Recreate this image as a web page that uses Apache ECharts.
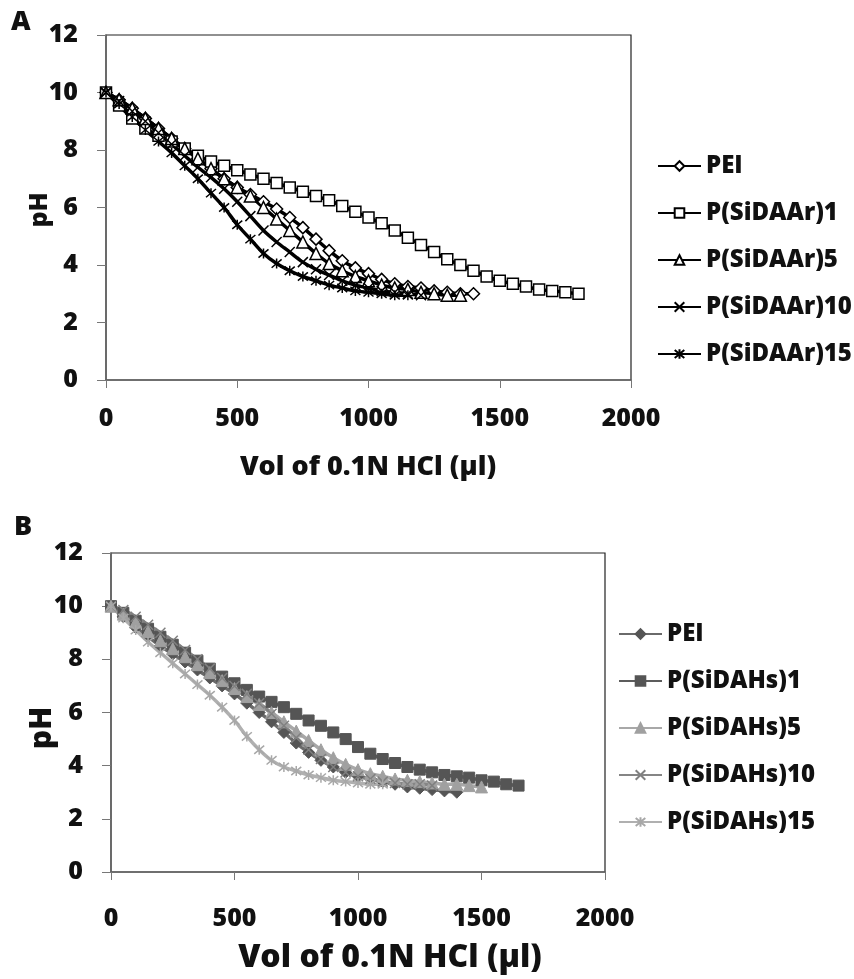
<!DOCTYPE html>
<html><head><meta charset="utf-8">
<script src="https://cdn.jsdelivr.net/npm/echarts@6/dist/echarts.min.js"></script>
<style>html,body{margin:0;padding:0;background:#fff}#c{width:854px;height:979px}</style>
</head><body><div id="c"></div>
<script>
// Volume of 0.1N HCl (µl)
var vol = [0,50,100,150,200,250,300,350,400,450,500,550,600,650,700,750,800,850,900,950,1000,1050,1100,1150,1200,1250,1300,1350,1400,1450,1500,1550,1600,1650,1700,1750,1800];
var yTicks = [0,2,4,6,8,10,12];
var xTicks = [0,500,1000,1500,2000];

// Panel A (pH)
var namesA = ['PEI','P(SiDAAr)1','P(SiDAAr)5','P(SiDAAr)10','P(SiDAAr)15'];
var peiA  = [10,9.75,9.45,9.1,8.75,8.4,8.05,7.7,7.35,7.0,6.7,6.45,6.2,5.95,5.65,5.3,4.9,4.5,4.15,3.9,3.7,3.5,3.35,3.25,3.2,3.1,3.05,3.0,3.0];
var p1A   = [10,9.55,9.1,8.75,8.5,8.3,8.05,7.8,7.6,7.45,7.3,7.15,7.0,6.85,6.7,6.55,6.4,6.25,6.05,5.85,5.65,5.45,5.2,4.95,4.7,4.45,4.2,4.0,3.8,3.6,3.45,3.35,3.25,3.15,3.1,3.05,3.0];
var p5A   = [10,9.75,9.45,9.1,8.75,8.4,8.05,7.7,7.35,7.0,6.7,6.4,6.0,5.6,5.2,4.8,4.4,4.05,3.8,3.6,3.45,3.3,3.2,3.15,3.05,3.0,2.95,2.95];
var p10A  = [10,9.7,9.35,9.0,8.6,8.2,7.8,7.4,7.05,6.65,6.2,5.7,5.2,4.8,4.45,4.1,3.85,3.65,3.45,3.3,3.2,3.1,3.05,3.0,2.95];
var p15A  = [10,9.6,9.15,8.7,8.3,7.9,7.45,7.0,6.5,6.0,5.4,4.9,4.4,4.05,3.8,3.6,3.45,3.3,3.2,3.1,3.05,3.0,2.95,2.95];

// Panel B (pH) — 'PEI ' carries a trailing space so each legend maps to its own series
var namesB = ['PEI ','P(SiDAHs)1','P(SiDAHs)5','P(SiDAHs)10','P(SiDAHs)15'];
var peiB  = [10,9.6,9.2,8.85,8.5,8.2,7.9,7.6,7.3,7.0,6.7,6.35,6.0,5.65,5.25,4.85,4.5,4.2,3.95,3.75,3.6,3.5,3.4,3.3,3.2,3.15,3.1,3.05,3.0];
var p1B   = [10,9.75,9.45,9.15,8.85,8.55,8.25,7.95,7.65,7.35,7.1,6.85,6.6,6.4,6.2,5.95,5.7,5.5,5.25,5.0,4.7,4.45,4.25,4.1,3.95,3.85,3.75,3.65,3.6,3.55,3.45,3.4,3.3,3.25];
var p5B   = [10,9.7,9.4,9.05,8.7,8.4,8.1,7.8,7.5,7.2,6.9,6.6,6.3,6.0,5.65,5.3,4.95,4.6,4.3,4.05,3.85,3.7,3.6,3.5,3.45,3.4,3.35,3.3,3.3,3.25,3.2];
var p10B  = [10,9.85,9.6,9.3,9.0,8.7,8.35,8.0,7.65,7.3,7.0,6.7,6.35,5.95,5.5,5.05,4.6,4.25,3.95,3.75,3.6,3.5,3.4,3.35,3.3,3.3,3.25];
var p15B  = [10,9.55,9.1,8.65,8.25,7.85,7.45,7.05,6.65,6.2,5.7,5.1,4.6,4.2,3.95,3.8,3.65,3.55,3.45,3.4,3.35,3.3,3.3];

var FONT = '"Open Sans"';
var W = 800;
var CROSS = 'path://M0,0L10,10M10,0L0,10';
var STAR = 'path://M0,0L10,10M10,0L0,10M5,-1L5,11';

function pairs(ys){ return ys.map(function(y,i){ return [vol[i], y]; }); }

function mk(name, ys, gi, sym, size, lineColor, fill, border, bw, lw){
  return {
    name: name, type: 'line', xAxisIndex: gi, yAxisIndex: gi,
    data: pairs(ys), smooth: 0.3, symbol: sym, symbolSize: size,
    showSymbol: true, animation: false,
    lineStyle: {color: lineColor, width: lw},
    itemStyle: {color: fill, borderColor: border, borderWidth: bw},
    emphasis: {disabled: true}
  };
}

var axisX = function(gi, margin){ return {
  type: 'value', gridIndex: gi, min: 0, max: 2000, interval: 500,
  axisLine: {show: true, lineStyle: {color: '#666', width: 1.5}},
  axisTick: {show: true, inside: false, length: 8, lineStyle: {color: '#777'}},
  splitLine: {show: false},
  axisLabel: {margin: margin, fontFamily: FONT, fontWeight: W, fontSize: 25, color: '#111',
    formatter: function(v){ return String(v); }}
};};
var axisY = function(gi){ return {
  type: 'value', gridIndex: gi, min: 0, max: 12, interval: 2,
  axisLine: {show: true, lineStyle: {color: '#666', width: 1.5}},
  axisTick: {show: true, inside: false, length: 9, lineStyle: {color: '#777'}},
  splitLine: {show: false},
  axisLabel: {margin: 28, fontFamily: FONT, fontWeight: W, fontSize: 25, color: '#111'}
};};

var legendText = {fontFamily: FONT, fontWeight: W, fontSize: 24, lineHeight: 26, color: '#111'};

var chart = echarts.init(document.getElementById('c'), null, {renderer: 'canvas'});
chart.setOption({
  animation: false,
  textStyle: {fontFamily: FONT},
  grid: [
    {left: 106, top: 35, width: 525, height: 345, show: true, borderColor: '#222', borderWidth: 1.2, backgroundColor: 'transparent'},
    {left: 111, top: 553, width: 494, height: 319, show: true, borderColor: '#222', borderWidth: 1.2, backgroundColor: 'transparent'}
  ],
  xAxis: [axisX(0, 26), axisX(1, 34)],
  yAxis: [axisY(0), axisY(1)],
  legend: [
    {data: namesA, orient: 'vertical', left: 652, top: 148, itemWidth: 43, itemHeight: 12, itemGap: 21,
     textStyle: legendText, selectedMode: false},
    {data: namesB, orient: 'vertical', left: 613, top: 616, itemWidth: 43, itemHeight: 12, itemGap: 21,
     textStyle: legendText, selectedMode: false}
  ],
  graphic: [
    {type: 'text', left: 11, top: 9, style: {text: 'A', font: '800 27px "Open Sans"', fill: '#111'}},
    {type: 'text', left: 14, top: 514, style: {text: 'B', font: '800 27px "Open Sans"', fill: '#111'}},
    {type: 'text', x: 40, y: 210, rotation: Math.PI/2, style: {text: 'pH', font: '800 25px "Open Sans"', fill: '#111', align: 'center', verticalAlign: 'middle'}},
    {type: 'text', x: 42, y: 728, rotation: Math.PI/2, style: {text: 'pH', font: '800 30px "Open Sans"', fill: '#111', align: 'center', verticalAlign: 'middle'}},
    {type: 'text', x: 368, y: 467, style: {text: 'Vol of 0.1N HCl (µl)', font: '800 27px "Open Sans"', fill: '#111', align: 'center', verticalAlign: 'middle'}},
    {type: 'text', x: 390, y: 958, style: {text: 'Vol of 0.1N HCl (µl)', font: '800 32px "Open Sans"', fill: '#111', align: 'center', verticalAlign: 'middle'}}
  ],
  series: [
    mk(namesA[0], peiA, 0, 'diamond', 12, '#000', '#fff', '#000', 1.5, 3.5),
    mk(namesA[1], p1A, 0, 'rect', 11, '#000', '#fff', '#000', 1.5, 3.5),
    mk(namesA[2], p5A, 0, 'triangle', 12, '#000', '#fff', '#000', 1.5, 3.5),
    mk(namesA[3], p10A, 0, CROSS, 10, '#000', 'none', '#000', 1.5, 3.5),
    mk(namesA[4], p15A, 0, STAR, 10, '#000', 'none', '#000', 1.5, 3.5),
    mk(namesB[0], peiB, 1, 'diamond', 12, '#6a6a6a', '#555', '#555', 1, 3.5),
    mk(namesB[1], p1B, 1, 'rect', 11, '#5c5c5c', '#555', '#555', 1, 3.5),
    mk(namesB[2], p5B, 1, 'triangle', 12, '#a8a8a8', '#a0a0a0', '#a0a0a0', 1, 3.5),
    mk(namesB[3], p10B, 1, CROSS, 10, '#858585', 'none', '#808080', 1.5, 3.5),
    mk(namesB[4], p15B, 1, STAR, 10, '#b0b0b0', 'none', '#a8a8a8', 1.5, 3.5)
  ]
});
</script>
</body></html>
